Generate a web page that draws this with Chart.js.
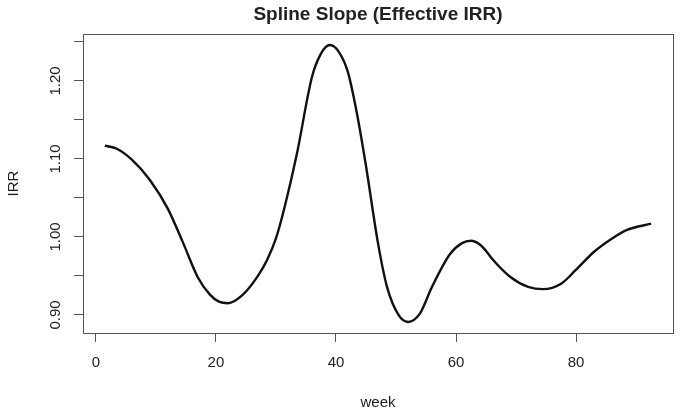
<!DOCTYPE html>
<html>

<head>
  <script src="https://cdn.jsdelivr.net/npm/chart.js"></script>
  <style>
    body { margin: 0; background: #fff; }
  </style>
</head>

<body>
  <canvas id="irrChart" width="681" height="415"></canvas>

  <script>
    // values
    const weeks = [1.5, 3.5, 6, 9, 12, 14.5, 17, 19, 20.5, 22, 24.5, 27, 28.5, 30, 31.5, 33.5, 36, 37.5, 39, 40.5, 42, 43.5,
      45, 47, 48.5, 50.5, 52, 54, 56, 59, 61, 62.5, 64, 65, 66, 69, 72, 74.5, 77.5, 80, 83, 86, 88.5, 92.5];
    const irr = [1.117, 1.113, 1.099, 1.073, 1.036, 0.993, 0.948, 0.926, 0.917, 0.915, 0.926, 0.950, 0.970, 0.998, 1.040, 1.107, 1.205, 1.235, 1.246, 1.237, 1.211, 1.158,
      1.091, 0.992, 0.936, 0.899, 0.891, 0.902, 0.936, 0.978, 0.992, 0.995, 0.990, 0.982, 0.972, 0.949, 0.936, 0.933, 0.940, 0.958, 0.981, 0.998, 1.009, 1.017];
    const xTickStep = 20;
    const yTickStep = 0.05;
    const titleText = "Spline Slope (Effective IRR)";
    const xLabel = "week";
    const yLabel = "IRR";

    const fontFamily = "'Liberation Sans', Arial, Helvetica, sans-serif";
    const textColor = "#222";
    const axisColor = "#555";

    // R style range: data range stretched by 4% each side
    function rRange(values) {
      let lo = Math.min(...values);
      let hi = Math.max(...values);
      let pad = (hi - lo) * 0.04;
      return [lo - pad, hi + pad];
    }
    const xRange = rRange(weeks);
    const yRange = rRange(irr);

    const points = weeks.map((w, i) => ({ x: w, y: irr[i] }));

    // box round the plot region
    const plotBox = {
      id: "plotBox",
      afterDraw(chart) {
        const a = chart.chartArea;
        const ctx = chart.ctx;
        ctx.save();
        ctx.strokeStyle = axisColor;
        ctx.lineWidth = 1;
        ctx.strokeRect(Math.round(a.left) + 0.5, Math.round(a.top) + 0.5, Math.round(a.right - a.left), Math.round(a.bottom - a.top));
        ctx.restore();
      }
    };

    const ctx = document.getElementById("irrChart").getContext("2d");
    new Chart(ctx, {
      type: "line",
      data: {
        datasets: [{
          data: points,
          borderColor: "#111",
          borderWidth: 2.4,
          pointRadius: 0,
          fill: false,
          cubicInterpolationMode: "monotone"
        }]
      },
      plugins: [plotBox],
      options: {
        responsive: false,
        animation: false,
        layout: { padding: { left: 0, right: 8, top: 0, bottom: 0 } },
        plugins: {
          legend: { display: false },
          tooltip: { enabled: false },
          title: {
            display: true,
            text: titleText,
            fullSize: false,
            color: textColor,
            font: { family: fontFamily, size: 19, weight: "bold" },
            padding: { top: 3.6, bottom: 7.6 }
          }
        },
        scales: {
          x: {
            type: "linear",
            min: xRange[0],
            max: xRange[1],
            afterFit: (s) => { s.height = 82; },
            border: { display: false },
            grid: { drawOnChartArea: false, drawTicks: true, tickLength: 9, color: axisColor },
            ticks: {
              stepSize: xTickStep,
              includeBounds: false,
              padding: 12,
              color: textColor,
              font: { family: fontFamily, size: 15 },
              callback: (v) => String(v)
            },
            title: {
              display: true,
              text: xLabel,
              color: textColor,
              font: { family: fontFamily, size: 15 },
              padding: { top: 0, bottom: 3 }
            }
          },
          y: {
            type: "linear",
            min: yRange[0],
            max: yRange[1],
            afterFit: (s) => { s.width = 83; },
            border: { display: false },
            grid: { drawOnChartArea: false, drawTicks: true, tickLength: 9, color: axisColor },
            ticks: {
              stepSize: yTickStep,
              includeBounds: false,
              minRotation: 90,
              maxRotation: 90,
              crossAlign: "center",
              padding: 4,
              color: textColor,
              font: { family: fontFamily, size: 15 },
              callback: (v) => {
                let h = Math.round(v * 100);
                return h % 10 === 0 ? (h / 100).toFixed(2) : "";
              }
            },
            title: {
              display: true,
              text: yLabel,
              color: textColor,
              font: { family: fontFamily, size: 15 },
              padding: { top: 5, bottom: 0 }
            }
          }
        }
      }
    });
  </script>
</body>

</html>
